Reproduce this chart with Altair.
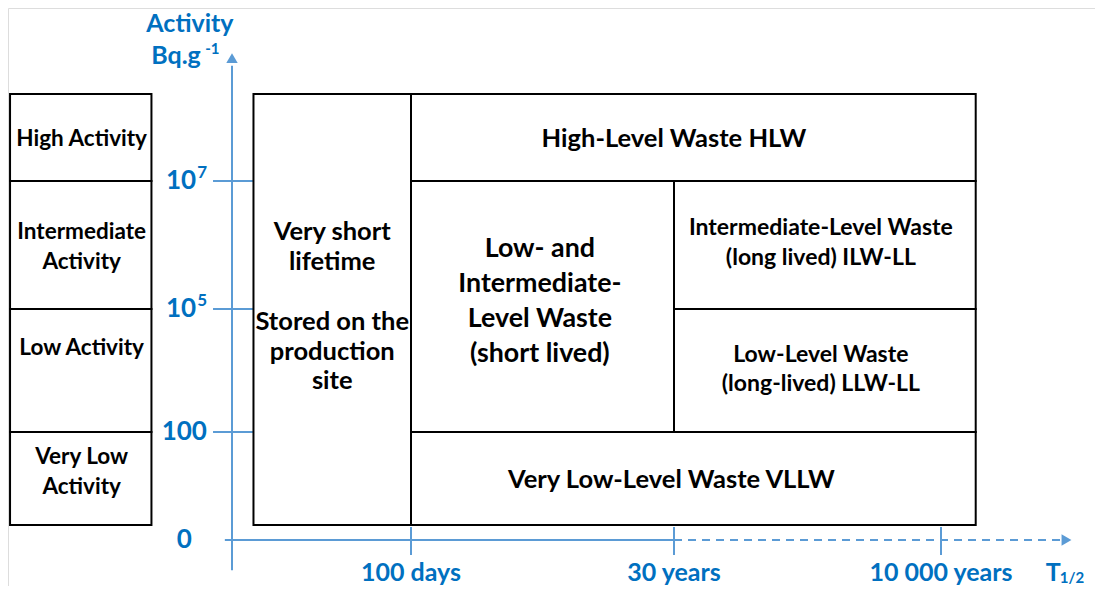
import altair as alt
import pandas as pd

# ---- axis tick labels (positions are tick indices along each axis) ----
HALF_LIFE_LABELS = ["100 days", "30 years", "10 000 years"]
HALF_LIFE_INDEX = [1, 2, 3]
ACTIVITY_BASE = ["0", "100", "10", "10"]
ACTIVITY_EXP = ["", "", "5", "7"]
ACTIVITY_INDEX = [0, 1, 2, 3]

# ---- activity classes (left column) ----
CLASS_NAMES = ["High Activity", "Intermediate\nActivity", "Low Activity", "Very Low\nActivity"]
CLASS_A_FROM = [3.0, 2.0, 1.0, 0.14]
CLASS_A_TO = [3.68, 3.0, 2.0, 1.0]

# ---- waste categories (half-life index range x activity index range) ----
WASTE_T_FROM = [0.12, 1.0, 1.0, 2.0, 2.0, 1.0]
WASTE_T_TO = [1.0, 3.13, 2.0, 3.13, 3.13, 3.13]
WASTE_A_FROM = [0.14, 3.0, 1.0, 2.0, 1.0, 0.14]
WASTE_A_TO = [3.68, 3.68, 3.0, 3.0, 2.0, 1.0]

WASTE_TEXTS = [
    "Very short\nlifetime",
    "Stored on the\nproduction\nsite",
    "High-Level Waste HLW",
    "Low- and\nIntermediate-\nLevel Waste\n(short lived)",
    "Intermediate-Level Waste\n(long lived) ILW-LL",
    "Low-Level Waste\n(long-lived) LLW-LL",
    "Very Low-Level Waste VLLW",
]
WASTE_TEXT_GROUP = ["std", "std", "std", "big", "small", "small", "std"]

# ---- layout: label anchors (first text line) in axis-index units ----
CLASS_LABEL_A = [3.33, 2.60, 1.68, 0.77]
WASTE_LABEL_T = [0.56, 0.56, 2.0, 1.49, 2.55, 2.55, 1.99]
WASTE_LABEL_A = [2.60, 1.894, 3.33, 2.47, 2.63, 1.63, 0.56]
ACTIVITY_LABEL_T = [-0.225, -0.14, -0.2, -0.2]

BLUE_TEXT = "#0070C0"
BLUE_LINE = "#5B9BD5"
FONT = "Lato"

xs = alt.Scale(domain=[0, 1, 2, 3], range=[224, 403, 666, 933], nice=False, zero=False)
ys = alt.Scale(domain=[0, 1, 2, 3], range=[532, 424, 301, 173], nice=False, zero=False)


def X(f):
    return alt.X(f, type="quantitative", scale=xs, axis=None)


def Y(f):
    return alt.Y(f, type="quantitative", scale=ys, axis=None)


def X2(f):
    return alt.X2(f)


def Y2(f):
    return alt.Y2(f)


classes = pd.DataFrame({
    "name": CLASS_NAMES, "a0": CLASS_A_FROM, "a1": CLASS_A_TO,
    "t0": [-1.24] * 4, "t1": [-0.45] * 4, "lt": [-0.84] * 4, "la": CLASS_LABEL_A,
})
waste = pd.DataFrame({
    "t0": WASTE_T_FROM, "t1": WASTE_T_TO, "a0": WASTE_A_FROM, "a1": WASTE_A_TO,
})
waste_lbl = pd.DataFrame({
    "name": WASTE_TEXTS, "lt": WASTE_LABEL_T, "la": WASTE_LABEL_A, "g": WASTE_TEXT_GROUP,
})
tlabels = pd.DataFrame({"label": HALF_LIFE_LABELS, "t": HALF_LIFE_INDEX})
alabels = pd.DataFrame({"base": ACTIVITY_BASE, "exp": ACTIVITY_EXP, "a": ACTIVITY_INDEX,
                        "lt": ACTIVITY_LABEL_T})

# axes lines
yaxis = alt.Chart(pd.DataFrame({"t": [0], "a0": [-0.28], "a1": [3.9]})).mark_rule(
    color=BLUE_LINE, strokeWidth=2).encode(x=X("t"), y=Y("a0"), y2=Y2("a1"))
xaxis = alt.Chart(pd.DataFrame({"t0": [-0.04], "t1": [2.0], "a": [0]})).mark_rule(
    color=BLUE_LINE, strokeWidth=2).encode(x=X("t0"), x2=X2("t1"), y=Y("a"))
xaxis_dash = alt.Chart(pd.DataFrame({"t0": [2.0], "t1": [3.45], "a": [0]})).mark_rule(
    color=BLUE_LINE, strokeWidth=2, strokeDash=[8, 6]).encode(x=X("t0"), x2=X2("t1"), y=Y("a"))
yarrow = alt.Chart(pd.DataFrame({"t": [0], "a": [3.96]})).mark_point(
    shape="triangle-up", filled=True, color=BLUE_LINE, size=130, opacity=1).encode(x=X("t"), y=Y("a"))
xarrow = alt.Chart(pd.DataFrame({"t": [3.47], "a": [0]})).mark_point(
    shape="triangle-right", filled=True, color=BLUE_LINE, size=130, opacity=1).encode(x=X("t"), y=Y("a"))

# ticks
yticks = alt.Chart(alabels[alabels.a > 0]).transform_calculate(
    t0="-0.106", t1="0.117").mark_rule(color=BLUE_LINE, strokeWidth=2).encode(
    x=X("t0"), x2=X2("t1"), y=Y("a"))
xticks = alt.Chart(tlabels).transform_calculate(
    a0="-0.14", a1="0.12").mark_rule(color=BLUE_LINE, strokeWidth=2).encode(
    x=X("t"), y=Y("a0"), y2=Y2("a1"))

# boxes
class_boxes = alt.Chart(classes).mark_rect(fill="white", stroke="black", strokeWidth=2).encode(
    x=X("t0"), x2=X2("t1"), y=Y("a0"), y2=Y2("a1"))
waste_boxes = alt.Chart(waste).mark_rect(fill="white", stroke="black", strokeWidth=2).encode(
    x=X("t0"), x2=X2("t1"), y=Y("a0"), y2=Y2("a1"))

# texts
class_text = alt.Chart(classes).mark_text(
    font=FONT, fontWeight="bold", fontSize=22.5, lineBreak="\n", lineHeight=30,
    align="center", baseline="middle", color="black").encode(x=X("lt"), y=Y("la"), text="name:N")


def waste_text(group, size, lh):
    return alt.Chart(waste_lbl[waste_lbl.g == group]).mark_text(
        font=FONT, fontWeight="bold", fontSize=size, lineBreak="\n", lineHeight=lh,
        align="center", baseline="middle", color="black").encode(x=X("lt"), y=Y("la"), text="name:N")


wt_std = waste_text("std", 25.5, 29.6)
wt_big = waste_text("big", 26.8, 35)
wt_small = waste_text("small", 23, 29.5)

ytick_base = alt.Chart(alabels).mark_text(
    font=FONT, fontWeight="bold", fontSize=26, align="right", baseline="middle", color=BLUE_TEXT
).encode(x=X("lt"), y=Y("a"), text="base:N")
ytick_exp = alt.Chart(alabels[alabels.exp != ""]).mark_text(
    font=FONT, fontWeight="bold", fontSize=17, align="left", baseline="middle", color=BLUE_TEXT,
    dx=1, dy=-8).encode(x=X("lt"), y=Y("a"), text="exp:N")
xtick_text = alt.Chart(tlabels).transform_calculate(a="-0.305").mark_text(
    font=FONT, fontWeight="bold", fontSize=25, align="center", baseline="middle", color=BLUE_TEXT
).encode(x=X("t"), y=Y("a"), text="label:N")

title_df = pd.DataFrame({"label": ["Activity", "Bq.g"], "t": [-0.235, -0.313], "a": [4.23, 3.98]})
ytitle = alt.Chart(title_df).mark_text(
    font=FONT, fontWeight="bold", fontSize=25, align="center", baseline="middle", color=BLUE_TEXT
).encode(x=X("t"), y=Y("a"), text="label:N")
exp_df = pd.DataFrame({"label": ["-1"], "t": [-0.15], "a": [4.03]})
ytitle_exp = alt.Chart(exp_df).mark_text(
    font=FONT, fontWeight="bold", fontSize=15, align="left", baseline="middle", color=BLUE_TEXT
).encode(x=X("t"), y=Y("a"), text="label:N")

t_df = pd.DataFrame({"label": ["T"], "t": [3.42], "a": [-0.305]})
t_title = alt.Chart(t_df).mark_text(
    font=FONT, fontWeight="bold", fontSize=25, align="center", baseline="middle", color=BLUE_TEXT
).encode(x=X("t"), y=Y("a"), text="label:N")
sub_df = pd.DataFrame({"label": ["1/2"], "t": [3.445], "a": [-0.35]})
t_sub = alt.Chart(sub_df).mark_text(
    font=FONT, fontWeight="bold", fontSize=15, align="left", baseline="middle", color=BLUE_TEXT
).encode(x=X("t"), y=Y("a"), text="label:N")

chart = alt.layer(
    yaxis, xaxis, xaxis_dash, yarrow, xarrow, yticks, xticks,
    class_boxes, waste_boxes,
    class_text, wt_std, wt_big, wt_small,
    ytick_base, ytick_exp, xtick_text, ytitle, ytitle_exp, t_title, t_sub,
).properties(
    width=1087, height=578, autosize=alt.AutoSizeParams(type="none"), padding=0
).configure_view(stroke=None).configure(background="white")

chart.save("out.html", embed_options={"renderer": "svg", "actions": False})
